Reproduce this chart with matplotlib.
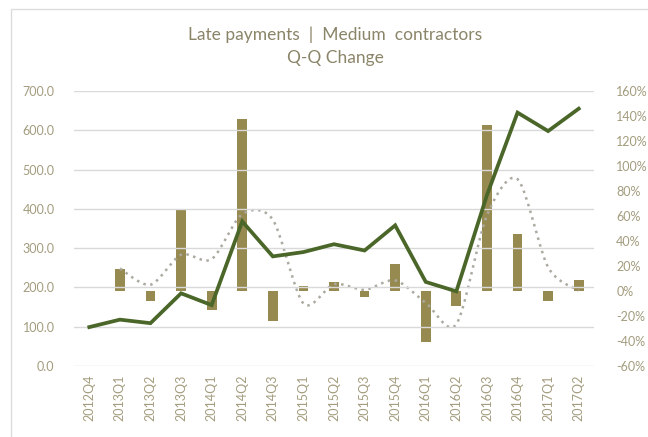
import numpy as np
import matplotlib
matplotlib.use("Agg")
import matplotlib.pyplot as plt
from matplotlib.ticker import FuncFormatter, MultipleLocator
from matplotlib.patches import Rectangle

quarters = ["2012Q4", "2013Q1", "2013Q2", "2013Q3", "2014Q1", "2014Q2", "2014Q3",
            "2015Q1", "2015Q2", "2015Q3", "2015Q4", "2016Q1", "2016Q2", "2016Q3",
            "2016Q4", "2017Q1", "2017Q2"]
late_payments = [99, 118, 109, 185, 155, 368, 279, 290, 310, 294, 358, 214, 190, 435, 645, 598, 655]
qq_change = [np.nan, 18, -8, 66, -15, 138, -24, 4, 7, -5, 22, -41, -12, 133, 46, -8, 8.5]
qq_trend = [np.nan, 18, 5, 29, 25.5, 61.5, 57, -10, 5.5, 1, 8.5, -9.5, -26.5, 60.5, 89.5, 19, 0.25]

TEXT = "#A39C7E"
TITLE = "#8A8468"
BAR = "#968A50"
LINE = "#4B6629"
DOT = "#ABA9A0"
GRID = "#D9D9D9"
FONT = ["Lato", "DejaVu Sans"]

plt.rcParams['font.family'] = FONT

fig = plt.figure(figsize=(6.48, 4.37), dpi=100)
fig.patches.append(Rectangle((11/648, -0.01), 1.0, 1 - 9/437 + 0.01, transform=fig.transFigure,
                             fill=False, edgecolor="#DCDCDC", linewidth=1.0))
ax = fig.add_axes([74/648, 1 - 366/437, (594 - 74)/648, (366 - 91)/437])
ax2 = ax.twinx()

x = np.arange(len(quarters))

# bars on secondary axis
ax2.bar(x, qq_change, width=0.32, color=BAR, zorder=2)

# smoothed dotted trend (Bezier through the points, Excel-like smoothing)
def smooth(xs, ys, n=20, k=7.0):
    xs = np.asarray(xs, float); ys = np.asarray(ys, float)
    px = np.concatenate([[xs[0]], xs, [xs[-1]]])
    py = np.concatenate([[ys[0]], ys, [ys[-1]]])
    outx, outy = [], []
    for i in range(1, len(px) - 2):
        t = np.linspace(0, 1, n, endpoint=False)
        p0, p1, p2, p3 = py[i-1], py[i], py[i+1], py[i+2]
        q0, q1, q2, q3 = px[i-1], px[i], px[i+1], px[i+2]
        b1y = p1 + (p2 - p0) / k; b2y = p2 - (p3 - p1) / k
        b1x = q1 + (q2 - q0) / k; b2x = q2 - (q3 - q1) / k
        outy.append((1-t)**3*p1 + 3*(1-t)**2*t*b1y + 3*(1-t)*t**2*b2y + t**3*p2)
        outx.append((1-t)**3*q1 + 3*(1-t)**2*t*b1x + 3*(1-t)*t**2*b2x + t**3*q2)
    outx.append([xs[-1]]); outy.append([ys[-1]])
    return np.concatenate(outx), np.concatenate(outy)

tr = np.array(qq_trend, float)
m = ~np.isnan(tr)
sx, sy = smooth(x[m], tr[m])
ax2.plot(sx, sy, linestyle=(0, (1, 1.8)), color=DOT, linewidth=1.8, zorder=3)

# main line on primary axis, drawn above
ax.plot(x, late_payments, color=LINE, linewidth=2.7, zorder=5, solid_joinstyle="miter")
ax.set_zorder(ax2.get_zorder() + 1)
ax.patch.set_visible(False)

ax.set_xlim(-0.5, len(quarters) - 0.5)
ax.set_ylim(0, 700)
ax.yaxis.set_major_locator(MultipleLocator(100))
ax.yaxis.set_major_formatter(FuncFormatter(lambda v, p: f"{v:.1f}"))
ax2.set_ylim(-60, 160)
ax2.yaxis.set_major_locator(MultipleLocator(20))
ax2.yaxis.set_major_formatter(FuncFormatter(lambda v, p: f"{v:.0f}%"))

ax.set_xticks(x)
ax.set_xticklabels(quarters, rotation=90)
ax.grid(axis="y", color=GRID, linewidth=1.0)
ax.set_axisbelow(True)
ax2.grid(False)

for a in (ax, ax2):
    for s in a.spines.values():
        s.set_visible(False)
    a.tick_params(length=0, colors=TEXT, labelsize=9)
ax.tick_params(axis="y", pad=14)
ax.tick_params(axis="x", pad=6)
ax2.tick_params(axis="y", pad=16)

fig.text(335/648, 1 - 35/437, "Late payments  |  Medium  contractors", ha="center", va="center",
         fontsize=12.5, color=TITLE)
fig.text(335/648, 1 - 58/437, "Q-Q Change", ha="center", va="center", fontsize=12.5, color=TITLE)

fig.savefig("out.png", dpi=100)
